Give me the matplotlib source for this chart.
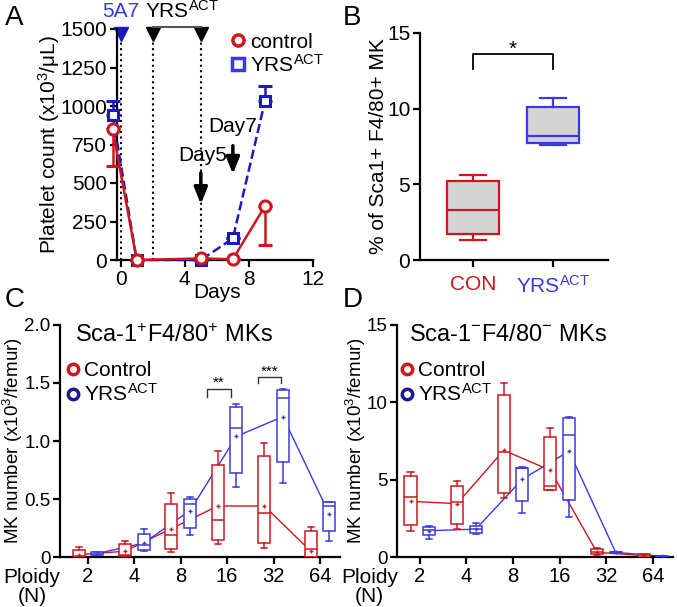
import matplotlib
matplotlib.use('Agg')
import matplotlib.pyplot as plt
from matplotlib.lines import Line2D
import numpy as np

plt.rcParams['font.family'] = ['Liberation Sans', 'DejaVu Sans']
plt.rcParams['mathtext.fontset'] = 'custom'
plt.rcParams['mathtext.rm'] = 'Liberation Sans'
plt.rcParams['mathtext.it'] = 'Liberation Sans:italic'
plt.rcParams['mathtext.bf'] = 'Liberation Sans:bold'

RED = '#d0161c'
BLUE = '#1a1ac0'
BLUE_LT = '#3a3ae0'
NAVY = '#1a1a8c'
FS = 15

# ---- panel A data
days = [-0.5, 1, 5, 7, 9]
ctrl_platelets = [850, 0, 10, 5, 350]
ctrl_err_low = [240, 0, 0, 0, 250]
yrs_platelets = [940, 0, 0, 140, 1030]
yrs_err_high = [90, 0, 0, 0, 100]

# ---- panel B data
b_groups = ['CON', 'YRS$^{\\mathrm{ACT}}$']
b_con = dict(whislo=1.3, q1=1.7, med=3.3, q3=5.2, whishi=5.6)
b_yrs = dict(whislo=7.6, q1=7.7, med=8.2, q3=10.1, whishi=10.7)

# ---- panels C, D data
ploidy = ['2', '4', '8', '16', '32', '64']
# (whislo, q1, med, q3, whishi, mean)
c_ctrl = [(0.0, 0.0, 0.01, 0.06, 0.09, 0.02),
          (0.0, 0.01, 0.02, 0.11, 0.14, 0.05),
          (0.04, 0.07, 0.19, 0.46, 0.55, 0.245),
          (0.115, 0.15, 0.32, 0.79, 0.91, 0.44),
          (0.08, 0.12, 0.38, 0.87, 0.98, 0.44),
          (0.0, 0.0, 0.07, 0.22, 0.26, 0.05)]
c_yrs = [(0.02, 0.02, 0.03, 0.04, 0.04, 0.03),
         (0.05, 0.06, 0.10, 0.20, 0.24, 0.12),
         (0.19, 0.25, 0.455, 0.50, 0.52, 0.40),
         (0.60, 0.725, 1.11, 1.29, 1.32, 1.04),
         (0.64, 0.82, 1.37, 1.44, 1.45, 1.21),
         (0.14, 0.22, 0.44, 0.47, 0.475, 0.37)]
d_ctrl = [(1.66, 2.05, 3.88, 5.22, 5.5, 3.6),
          (1.79, 2.16, 3.56, 4.58, 4.9, 3.45),
          (3.84, 4.17, 6.76, 10.47, 11.22, 6.9),
          (4.32, 4.36, 4.58, 7.77, 8.31, 5.6),
          (0.15, 0.17, 0.3, 0.54, 0.6, 0.3),
          (0.0, 0.02, 0.1, 0.2, 0.22, 0.1)]
d_yrs = [(1.19, 1.40, 1.73, 1.94, 1.98, 1.7),
         (1.47, 1.58, 1.79, 2.0, 2.2, 1.8),
         (2.87, 3.6, 5.78, 5.78, 5.83, 5.03),
         (2.59, 3.71, 7.92, 8.96, 9.02, 6.84),
         (0.25, 0.27, 0.3, 0.33, 0.35, 0.3),
         (0.02, 0.03, 0.05, 0.07, 0.08, 0.05)]

W, H = 677, 607
fig = plt.figure(figsize=(W / 100, H / 100), dpi=100)


def add_ax(left, top, right, bottom):
    return fig.add_axes([left / W, 1 - bottom / H, (right - left) / W, (bottom - top) / H])


def style(ax, fs=FS):
    for s in ['top', 'right']:
        ax.spines[s].set_visible(False)
    for s in ['left', 'bottom']:
        ax.spines[s].set_linewidth(1.6)
    ax.tick_params(width=1.6, length=5, labelsize=fs, pad=2)


# ================= A
axA = add_ax(117, 29, 313, 260)
style(axA)
axA.set_xlim(-0.23, 12)
axA.set_ylim(0, 1500)
axA.set_xticks([0, 4, 8, 12])
axA.set_yticks(np.arange(0, 1501, 250))
axA.set_ylabel('Platelet count (x10$^3$/μL)', fontsize=FS)
axA.yaxis.set_label_coords(-0.28, 0.5)
axA.text(6, -0.14, 'Days', transform=axA.get_xaxis_transform(), ha='center', va='center', fontsize=FS)

for xv in [0, 2, 5]:
    axA.plot([xv, xv], [0, 1470], ls=':', color='k', lw=1.5, zorder=1)
axA.plot([0], [1470], marker='v', color=BLUE, ms=10, clip_on=False)
axA.plot([2, 5], [1470, 1470], marker='v', color='k', ms=10, ls='none', clip_on=False)
axA.plot([2, 5], [1515, 1515], color='#555555', lw=1.5, clip_on=False)
axA.text(0, 1612, '5A7', color=BLUE_LT, ha='center', va='center', fontsize=FS)
axA.text(3.8, 1620, 'YRS$^{\\mathrm{ACT}}$', color='k', ha='center', va='center', fontsize=FS)

axA.errorbar(days, ctrl_platelets, yerr=[ctrl_err_low, [0] * 5], color=RED, lw=1.8,
             capsize=5, capthick=2, marker='o', ms=8, mfc='white', mew=2.2, clip_on=False, zorder=4)
axA.errorbar(days, yrs_platelets, yerr=[[0] * 5, yrs_err_high], color=BLUE, lw=1.8, ls='--',
             capsize=5, capthick=2, marker='s', ms=7.5, mfc='white', mew=2.2, clip_on=False, zorder=3)

axA.annotate('', xy=(5, 344), xytext=(5, 584),
             arrowprops=dict(arrowstyle='-|>,head_length=1.0,head_width=0.4', color='k', lw=2.5))
axA.text(5.1, 681, 'Day5', ha='center', va='center', fontsize=FS)
axA.annotate('', xy=(7, 540), xytext=(7, 760),
             arrowprops=dict(arrowstyle='-|>,head_length=1.0,head_width=0.4', color='k', lw=2.5))
axA.text(7.0, 864, 'Day7', ha='center', va='center', fontsize=FS)

hA = [Line2D([], [], color=RED, marker='o', ls='none', mfc='white', mew=2.5, ms=8),
      Line2D([], [], color=BLUE_LT, marker='s', ls='none', mfc='white', mew=2.5, ms=8)]
axA.legend(hA, ['control', 'YRS$^{\\mathrm{ACT}}$'], loc='upper left', bbox_to_anchor=(0.52, 1.02),
           frameon=False, fontsize=FS, handletextpad=0.1, handlelength=1.0, labelspacing=0.1,
           borderaxespad=0)

# ================= B
axB = add_ax(420, 33, 608, 260)
style(axB)
axB.set_xlim(0.34, 2.69)
axB.set_ylim(0, 15)
axB.set_yticks([0, 5, 10, 15])
axB.set_xticks([1, 2])
axB.set_xticklabels(b_groups)
axB.tick_params(axis='x', pad=6)
for lab, c in zip(axB.get_xticklabels(), [RED, BLUE_LT]):
    lab.set_color(c)
axB.set_ylabel('% of Sca1+ F4/80+ MK', fontsize=FS)
axB.yaxis.set_label_coords(-0.17, 0.5)
for pos, st, c in [(1, b_con, RED), (2, b_yrs, BLUE_LT)]:
    axB.bxp([st], positions=[pos], widths=0.65, showfliers=False, patch_artist=True,
            boxprops=dict(facecolor='#d4d4d4', edgecolor=c, lw=1.6),
            medianprops=dict(color=c, lw=1.6), whiskerprops=dict(color=c, lw=1.6),
            capprops=dict(color=c, lw=1.6), capwidths=0.32, manage_ticks=False)
axB.plot([1, 1, 2, 2], [12.6, 13.6, 13.6, 12.6], color='k', lw=1.3)
axB.text(1.5, 13.9, '*', ha='center', va='center', fontsize=FS)


# ================= C, D
def ploidy_panel(ax, ctrl, yrs, ylim, yticks, yticklabels, title, title_x, leg_x, lab_x):
    style(ax, 14.5)
    ax.tick_params(axis='y', labelsize=13.5)
    pos = np.arange(len(ploidy))
    for data, off, c in [(ctrl, -0.2, RED), (yrs, 0.2, BLUE_LT)]:
        stats = [dict(whislo=d[0], q1=d[1], med=d[2], q3=d[3], whishi=d[4], mean=d[5]) for d in data]
        ax.bxp(stats, positions=pos + off, widths=0.26, showfliers=False, showmeans=True,
               patch_artist=True, manage_ticks=False,
               boxprops=dict(facecolor='white', edgecolor=c, lw=1.1),
               medianprops=dict(color=c, lw=1.1), whiskerprops=dict(color=c, lw=1.1),
               capprops=dict(color=c, lw=1.1), capwidths=0.13,
               meanprops=dict(marker='+', markeredgecolor=c, markersize=3, markeredgewidth=1),
               zorder=3)
        ax.plot(pos + off, [d[5] for d in data], color=c, lw=1.0, zorder=2)
    ax.set_xticks(pos)
    ax.set_xticklabels(ploidy)
    ax.set_ylim(*ylim)
    ax.set_yticks(yticks)
    ax.set_yticklabels(yticklabels)
    ax.set_ylabel('MK number (x10$^3$/femur)', fontsize=13.5)
    ax.yaxis.set_label_coords(lab_x, 0.5)
    ax.text(title_x, 0.955, title, transform=ax.transAxes, fontsize=17, va='center', ha='left')
    hh = [Line2D([], [], color=RED, marker='o', ls='none', mfc='white', mew=2.5, ms=7.5),
          Line2D([], [], color=NAVY, marker='o', ls='none', mfc='white', mew=2.5, ms=7.5)]
    ax.legend(hh, ['Control', 'YRS$^{\\mathrm{ACT}}$'], loc='upper left', bbox_to_anchor=(leg_x, 0.88),
              frameon=False, fontsize=FS, handletextpad=0.0, handlelength=1.0, labelspacing=0.15,
              borderaxespad=0)
    ax.text(-0.1, -0.09, 'Ploidy', transform=ax.transAxes, fontsize=FS, ha='center', va='center')
    ax.text(-0.1, -0.172, '(N)', transform=ax.transAxes, fontsize=FS, ha='center', va='center')


axC = add_ax(60, 325, 340, 557)
axC.set_xlim(-0.6, 5.43)
ploidy_panel(axC, c_ctrl, c_yrs, (0, 2.0), [0, 0.5, 1.0, 1.5, 2.0],
             ['0', '0.5', '1.0', '1.5', '2.0'], 'Sca-1$^{+}$F4/80$^{+}$ MKs', 0.055, -0.02, -0.125)
axC.plot([2.56, 2.56, 3.08, 3.08], [1.38, 1.45, 1.45, 1.38], color='#333333', lw=1)
axC.text(2.82, 1.50, '**', ha='center', va='center', fontsize=11)
axC.plot([3.66, 3.66, 4.16, 4.16], [1.50, 1.55, 1.55, 1.50], color='#333333', lw=1)
axC.text(3.91, 1.60, '***', ha='center', va='center', fontsize=11)

axD = add_ax(397, 325, 673, 557)
axD.set_xlim(-0.49, 5.43)
ploidy_panel(axD, d_ctrl, d_yrs, (0, 15), [0, 5, 10, 15], ['0', '5', '10', '15'],
             'Sca-1$^{-}$F4/80$^{-}$ MKs', 0.045, -0.03, -0.105)

# panel letters
for lab, x, y in [('A', 5, 18), ('B', 343, 18), ('C', 5, 300), ('D', 343, 300)]:
    fig.text(x / W, 1 - y / H, lab, fontsize=20, ha='left', va='center')

fig.savefig('out.png', dpi=100)
